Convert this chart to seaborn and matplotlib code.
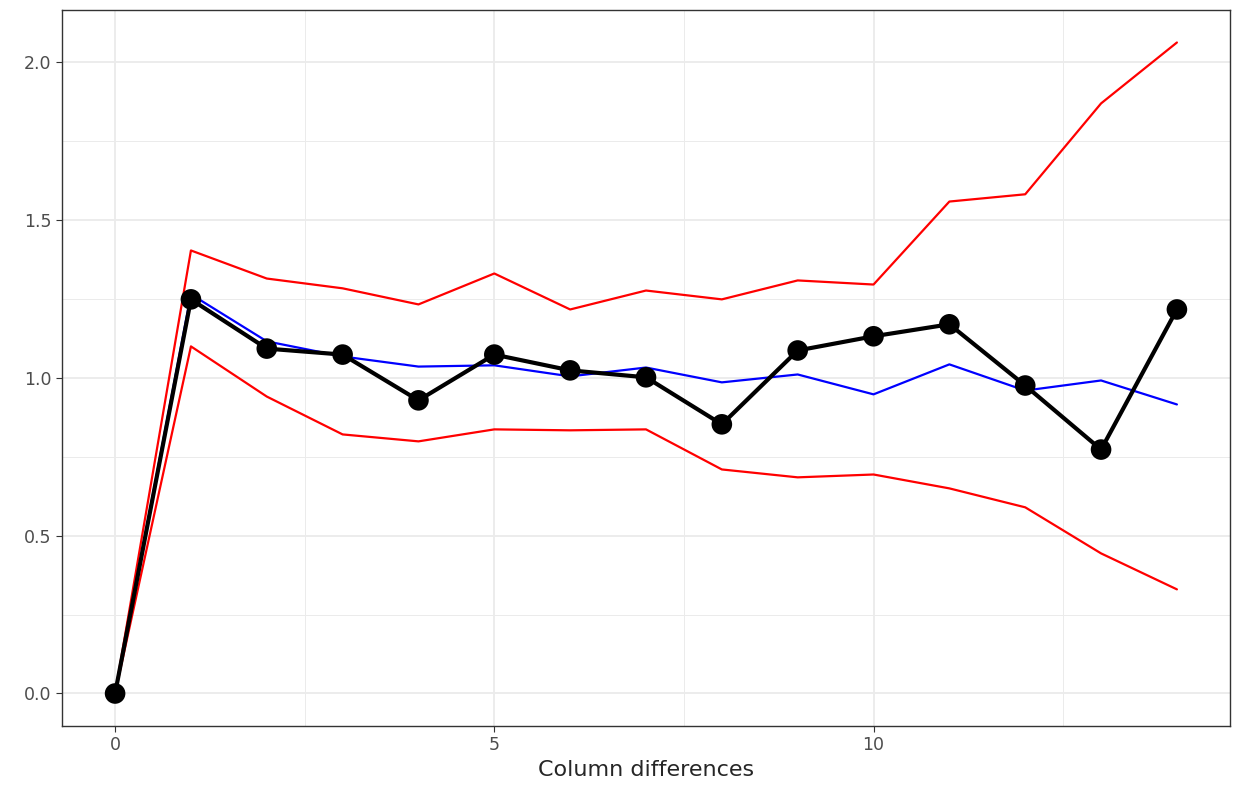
import matplotlib
matplotlib.use('Agg')
import matplotlib.pyplot as plt
import seaborn as sns
import pandas as pd
import numpy as np

lags = list(range(15))
observed = [0, 1.249, 1.093, 1.074, 0.929, 1.074, 1.024, 1.002, 0.853, 1.087, 1.132, 1.170, 0.976, 0.773, 1.217]
mean_sim = [0, 1.265, 1.116, 1.068, 1.036, 1.040, 1.005, 1.033, 0.986, 1.011, 0.948, 1.043, 0.960, 0.992, 0.916]
upper = [0, 1.404, 1.315, 1.284, 1.233, 1.331, 1.217, 1.277, 1.249, 1.309, 1.296, 1.559, 1.582, 1.870, 2.063]
lower = [0, 1.100, 0.941, 0.821, 0.799, 0.837, 0.834, 0.837, 0.710, 0.685, 0.694, 0.650, 0.590, 0.444, 0.330]

df = pd.DataFrame({'lag': lags, 'obs': observed, 'mean': mean_sim, 'up': upper, 'lo': lower})

sns.set_style('white')
fig = plt.figure(figsize=(12.36, 7.95), dpi=100)
ax = fig.add_axes([62 / 1236, 69 / 795, 1168 / 1236, 716 / 795])

sns.lineplot(data=df, x='lag', y='up', color='red', linewidth=1.6, ax=ax)
sns.lineplot(data=df, x='lag', y='lo', color='red', linewidth=1.6, ax=ax)
sns.lineplot(data=df, x='lag', y='mean', color='blue', linewidth=1.6, ax=ax)
sns.lineplot(data=df, x='lag', y='obs', color='black', linewidth=3, ax=ax)
sns.scatterplot(data=df, x='lag', y='obs', color='black', s=220, edgecolor='none', ax=ax, zorder=5)

ax.set_xlim(-0.7, 14.7)
ax.set_ylim(-0.103, 2.166)
ax.set_xticks([0, 5, 10])
ax.set_xticks([2.5, 7.5, 12.5], minor=True)
ax.set_yticks([0, 0.5, 1.0, 1.5, 2.0])
ax.set_yticks([0.25, 0.75, 1.25, 1.75], minor=True)
ax.set_yticklabels(['0.0', '0.5', '1.0', '1.5', '2.0'])
ax.grid(which='major', color='#ebebeb', linewidth=1.3)
ax.grid(which='minor', color='#ebebeb', linewidth=0.7)
ax.set_axisbelow(True)
ax.tick_params(which='major', length=4, color='#333333', labelsize=12.5, labelcolor='#4d4d4d', left=True, bottom=True)
ax.tick_params(which='minor', length=0)
for s in ax.spines.values():
    s.set_color('#333333')
    s.set_linewidth(1)
ax.set_xlabel('Column differences', fontsize=16)
ax.set_ylabel('')

fig.savefig('out.png', dpi=100)
